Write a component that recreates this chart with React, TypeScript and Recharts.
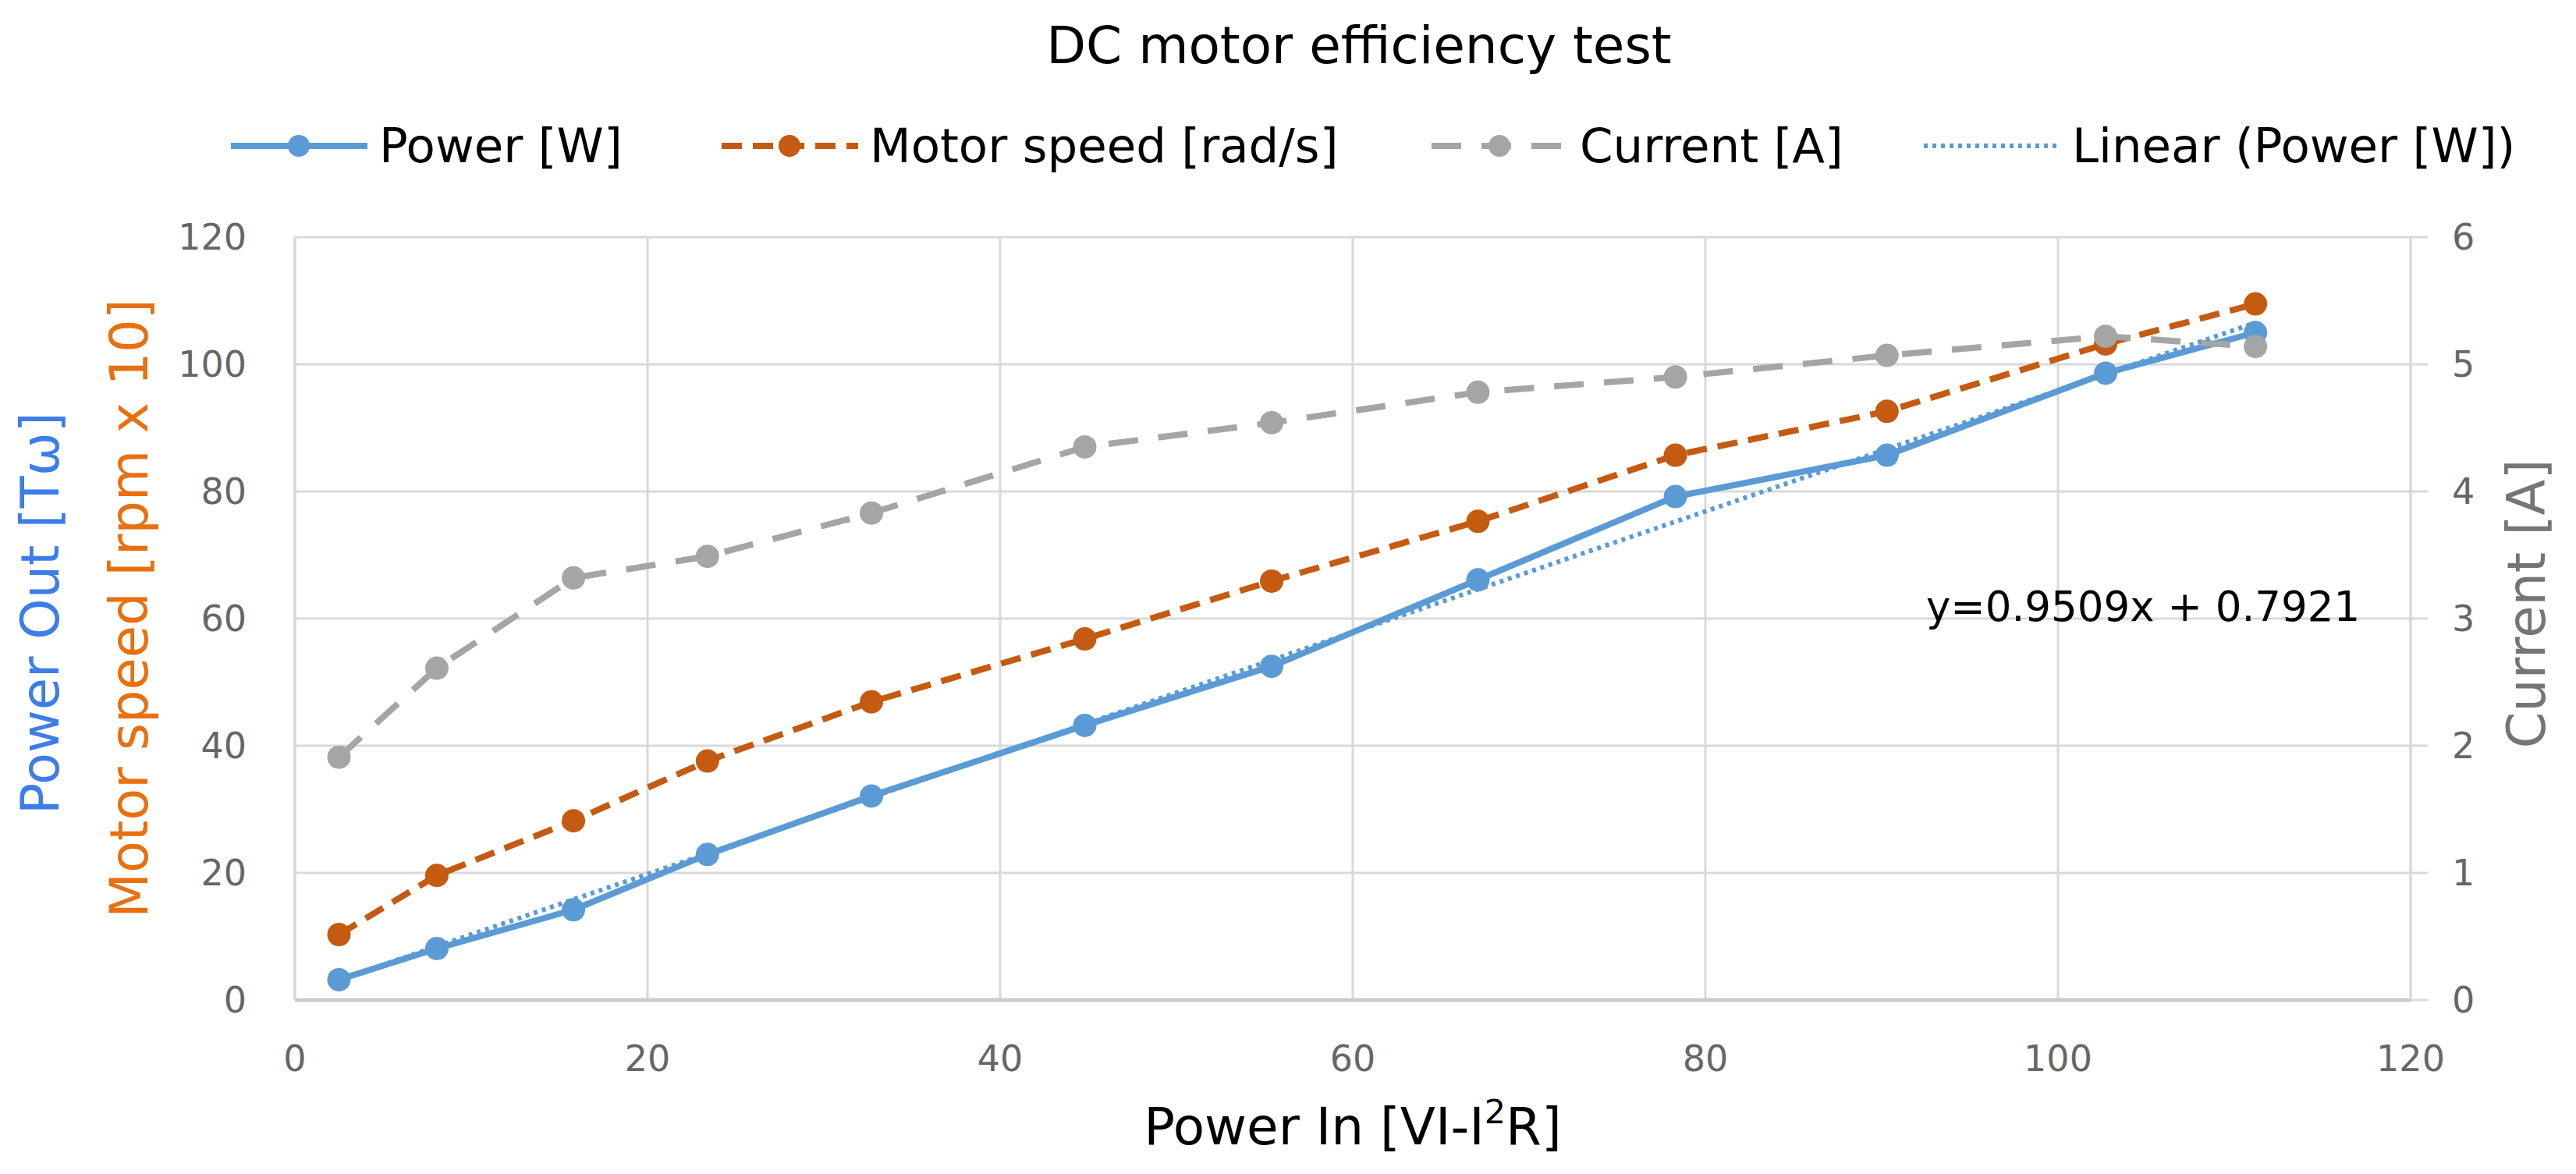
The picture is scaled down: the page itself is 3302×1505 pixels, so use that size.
import React from "react";
import { LineChart, Line, XAxis, YAxis, CartesianGrid, Label } from "recharts";

const powerIn = [2.5, 8.05, 15.8, 23.4, 32.7, 44.8, 55.4, 67.1, 78.3, 90.3, 102.7, 111.2];
const powerOut = [3.2, 8.1, 14.2, 22.9, 32.1, 43.2, 52.5, 66.1, 79.2, 85.7, 98.6, 105.0];
const motorSpeed = [10.3, 19.6, 28.2, 37.6, 46.9, 56.8, 65.9, 75.3, 85.7, 92.6, 103.2, 109.5];
const current = [1.91, 2.61, 3.32, 3.49, 3.83, 4.35, 4.54, 4.78, 4.9, 5.07, 5.22, 5.14];

// trendline coefficients as printed on the chart
const trendSlope = 0.9509;
const trendIntercept = 0.7921;

const xTicks = [0, 20, 40, 60, 80, 100, 120];
const leftTicks = [0, 20, 40, 60, 80, 100, 120];
const rightTicks = [0, 1, 2, 3, 4, 5, 6];

const FONT = "'DejaVu Sans', Verdana, sans-serif";
const BLUE = "#5B9BD5";
const ORANGE = "#C55A11";
const GRAY = "#A5A5A5";

const data = powerIn.map((x, i) => ({
  x,
  power: powerOut[i],
  speed: motorSpeed[i],
  current: current[i],
  trend: trendSlope * x + trendIntercept,
}));

const legendItems = [
  { name: "Power [W]", color: BLUE, dash: undefined, width: 8, dot: true, left: 296 },
  { name: "Motor speed [rad/s]", color: ORANGE, dash: "26 14", width: 8, dot: true, left: 925 },
  { name: "Current [A]", color: GRAY, dash: "38 26", width: 8, dot: true, left: 1835 },
  { name: "Linear (Power [W])", color: BLUE, dash: "5 6", width: 6, dot: false, left: 2466 },
];

const tickStyle = { fontSize: 46, fill: "#666666", fontFamily: FONT };

const ChartLegend = () => (
  <>
    {legendItems.map((item) => (
      <div
        key={item.name}
        style={{
          position: "absolute",
          top: 147,
          left: item.left,
          height: 80,
          display: "flex",
          alignItems: "center",
          whiteSpace: "nowrap",
        }}>
        <svg width={175} height={40}>
          <line
            x1={0}
            y1={20}
            x2={175}
            y2={20}
            stroke={item.color}
            strokeWidth={item.width}
            strokeDasharray={item.dash}
          />
          {item.dot && <circle cx={87} cy={20} r={14} fill={item.color} />}
        </svg>
        <span style={{ marginLeft: 15, fontSize: 61, lineHeight: "80px", color: "#000" }}>
          {item.name}
        </span>
      </div>
    ))}
  </>
);

const App = () => {
  return (
    <div
      style={{
        position: "absolute",
        left: 0,
        top: 0,
        width: 3302,
        height: 1505,
        background: "#fff",
        fontFamily: FONT,
      }}>
      <div
        style={{
          position: "absolute",
          top: 26,
          left: 1742,
          transform: "translateX(-50%)",
          fontSize: 66,
          lineHeight: "66px",
          whiteSpace: "nowrap",
          color: "#000",
        }}>
        DC motor efficiency test
      </div>
      <ChartLegend />
      <LineChart width={3302} height={1505} data={data} margin={{ top: 304, right: 0, bottom: 0, left: 0 }}>
        <CartesianGrid yAxisId="left" stroke="#D9D9D9" strokeWidth={3} />
        <XAxis
          type="number"
          dataKey="x"
          domain={[0, 120]}
          ticks={xTicks}
          height={223}
          tickSize={0}
          tickMargin={58}
          tickLine={false}
          axisLine={{ stroke: "#CCCCCC", strokeWidth: 5 }}
          tick={tickStyle}>
          <Label
            content={(props: any) => {
              const vb = props.viewBox;
              return (
                <text
                  x={vb.x + vb.width / 2}
                  y={vb.y + 185}
                  textAnchor="middle"
                  fontSize={66}
                  fontFamily={FONT}
                  fill="#000">
                  <tspan>Power In [VI-I</tspan>
                  <tspan fontSize={43} dy={-27}>
                    2
                  </tspan>
                  <tspan dy={27}>R]</tspan>
                </text>
              );
            }}
          />
        </XAxis>
        <YAxis
          yAxisId="left"
          domain={[0, 120]}
          ticks={leftTicks}
          width={378}
          tickSize={0}
          tickMargin={62}
          tickLine={false}
          axisLine={{ stroke: "#D9D9D9", strokeWidth: 3 }}
          tick={tickStyle}>
          <Label
            content={(props: any) => {
              const vb = props.viewBox;
              const cy = vb.y + vb.height / 2;
              return (
                <g fontFamily={FONT} fontSize={67}>
                  <text
                    x={vb.x + 75}
                    y={cy - 7}
                    textAnchor="middle"
                    fill="#3C7DE8"
                    transform={`rotate(-90 ${vb.x + 75} ${cy - 7})`}>
                    Power Out [Tω]
                  </text>
                  <text
                    x={vb.x + 189}
                    y={cy - 13}
                    textAnchor="middle"
                    fill="#E8700E"
                    transform={`rotate(-90 ${vb.x + 189} ${cy - 13})`}>
                    Motor speed [rpm x 10]
                  </text>
                </g>
              );
            }}
          />
        </YAxis>
        <YAxis
          yAxisId="right"
          orientation="right"
          domain={[0, 6]}
          ticks={rightTicks}
          width={212}
          tickSize={22}
          tickMargin={31}
          tickLine={{ stroke: "#D9D9D9", strokeWidth: 3 }}
          axisLine={{ stroke: "#D9D9D9", strokeWidth: 3 }}
          tick={tickStyle}>
          <Label
            content={(props: any) => {
              const vb = props.viewBox;
              const x = vb.x + 172;
              const y = vb.y + vb.height / 2 - 19;
              return (
                <text
                  x={x}
                  y={y}
                  textAnchor="middle"
                  fontFamily={FONT}
                  fontSize={67}
                  fill="#757575"
                  transform={`rotate(-90 ${x} ${y})`}>
                  Current [A]
                </text>
              );
            }}
          />
        </YAxis>
        <Line
          yAxisId="left"
          dataKey="power"
          stroke={BLUE}
          strokeWidth={8}
          dot={{ r: 15, fill: BLUE, strokeWidth: 0 }}
          isAnimationActive={false}
        />
        <Line
          yAxisId="left"
          dataKey="speed"
          stroke={ORANGE}
          strokeWidth={8}
          strokeDasharray="26 14"
          dot={{ r: 15, fill: ORANGE, strokeWidth: 0, strokeDasharray: "none" }}
          isAnimationActive={false}
        />
        <Line
          yAxisId="right"
          dataKey="current"
          stroke={GRAY}
          strokeWidth={8}
          strokeDasharray="38 26"
          dot={{ r: 15, fill: GRAY, strokeWidth: 0, strokeDasharray: "none" }}
          isAnimationActive={false}
        />
        <Line
          yAxisId="left"
          dataKey="trend"
          stroke={BLUE}
          strokeWidth={6}
          strokeDasharray="5 6"
          dot={false}
          isAnimationActive={false}
        />
      </LineChart>
      <div
        style={{
          position: "absolute",
          top: 751,
          left: 2469,
          fontSize: 53,
          lineHeight: "53px",
          whiteSpace: "nowrap",
          color: "#000",
        }}>
        y=0.9509x + 0.7921
      </div>
    </div>
  );
};

export default App;
